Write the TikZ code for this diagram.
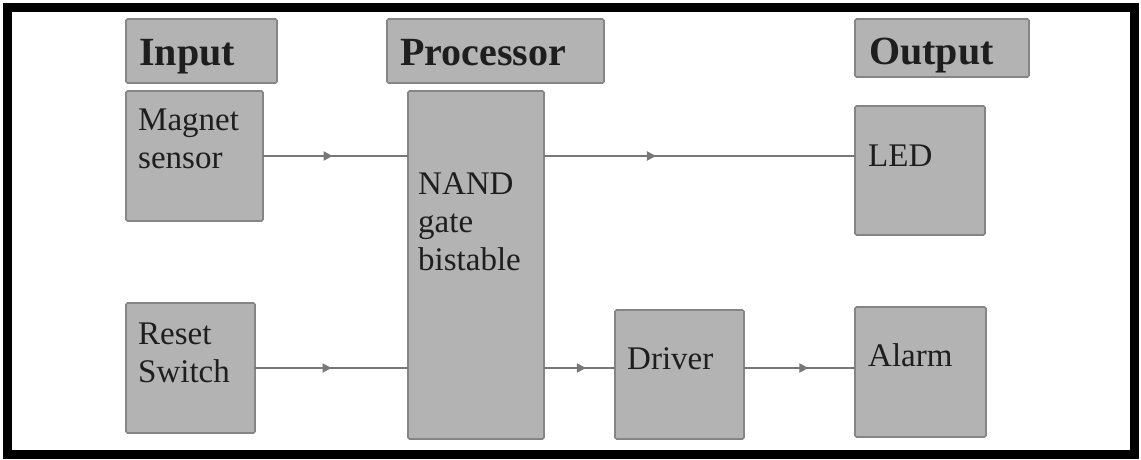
\documentclass[tikz,border=0pt]{standalone}
\usepackage{fontspec}
\setmainfont{Liberation Serif}
\usetikzlibrary{arrows.meta,decorations.markings}
\definecolor{boxfill}{HTML}{B3B3B3}
\definecolor{boxline}{HTML}{858585}
\definecolor{wirecol}{HTML}{777777}
\definecolor{txt}{HTML}{1E1E1E}
\begin{document}
\begin{tikzpicture}[x=1pt,y=-1pt,
  blk/.style={draw=boxline, fill=boxfill, line width=1.6pt, rounded corners=1.5pt,
    inner sep=0pt, outer sep=0pt, anchor=north west},
  hdtext/.style={anchor=base west, inner sep=0pt, font=\fontsize{40}{46}\selectfont\bfseries, text=txt},
  bodytext/.style={anchor=base west, inner sep=0pt, font=\fontsize{33}{38}\selectfont, text=txt, align=left},
  wire/.style={draw=wirecol, line width=2pt,
    decoration={markings, mark=at position #1 with {\arrow[wirecol]{Triangle[length=9pt,width=9pt]}}},
    postaction={decorate}},
]
\useasboundingbox (0,0) rectangle (1141,459);
\fill[white] (0,0) rectangle (1141,459);

% headers
\node[blk, minimum width=151pt, minimum height=64pt] (hin) at (126,19) {};
\node[hdtext] (hintxt) at (139,65) {Input};
\node[blk, minimum width=217pt, minimum height=64pt] (hpr) at (387,19) {};
\node[hdtext] (hprtxt) at (400,65) {Processor};
\node[blk, minimum width=174pt, minimum height=58pt] (hout) at (855,19) {};
\node[hdtext] (houttxt) at (869,64) {Output};

% blocks
\node[blk, minimum width=137pt, minimum height=130pt] (mag) at (126,91) {};
\node[bodytext] (magtxt) at (138,168) {Magnet\\sensor};
\node[blk, minimum width=136pt, minimum height=348pt] (nand) at (408,91) {};
\node[bodytext] (nandtxt) at (418,270) {NAND\\gate\\bistable};
\node[blk, minimum width=130pt, minimum height=129pt] (led) at (855,106) {};
\node[bodytext] (ledtxt) at (868,166) {LED};
\node[blk, minimum width=129pt, minimum height=130pt] (rst) at (126,303) {};
\node[bodytext] (rsttxt) at (138,382) {Reset\\Switch};
\node[blk, minimum width=129pt, minimum height=129pt] (drv) at (615,310) {};
\node[bodytext] (drvtxt) at (627,369) {Driver};
\node[blk, minimum width=131pt, minimum height=130pt] (alm) at (855,307) {};
\node[bodytext] (almtxt) at (868,366) {Alarm};

% connectors
\draw[wire=0.48] (mag.east) -- (mag.east -| nand.west);
\draw[wire=0.36] (nand.east |- mag.east) -- (led.west |- mag.east);
\draw[wire=0.50] (rst.east) -- (rst.east -| nand.west);
\draw[wire=0.59] (nand.east |- rst.east) -- (drv.west |- rst.east);
\draw[wire=0.58] (drv.east |- rst.east) -- (alm.west |- rst.east);

% frame
\draw[black, line width=9pt] (7.5,7.5) rectangle (1134.5,454.5);
\end{tikzpicture}
\end{document}
